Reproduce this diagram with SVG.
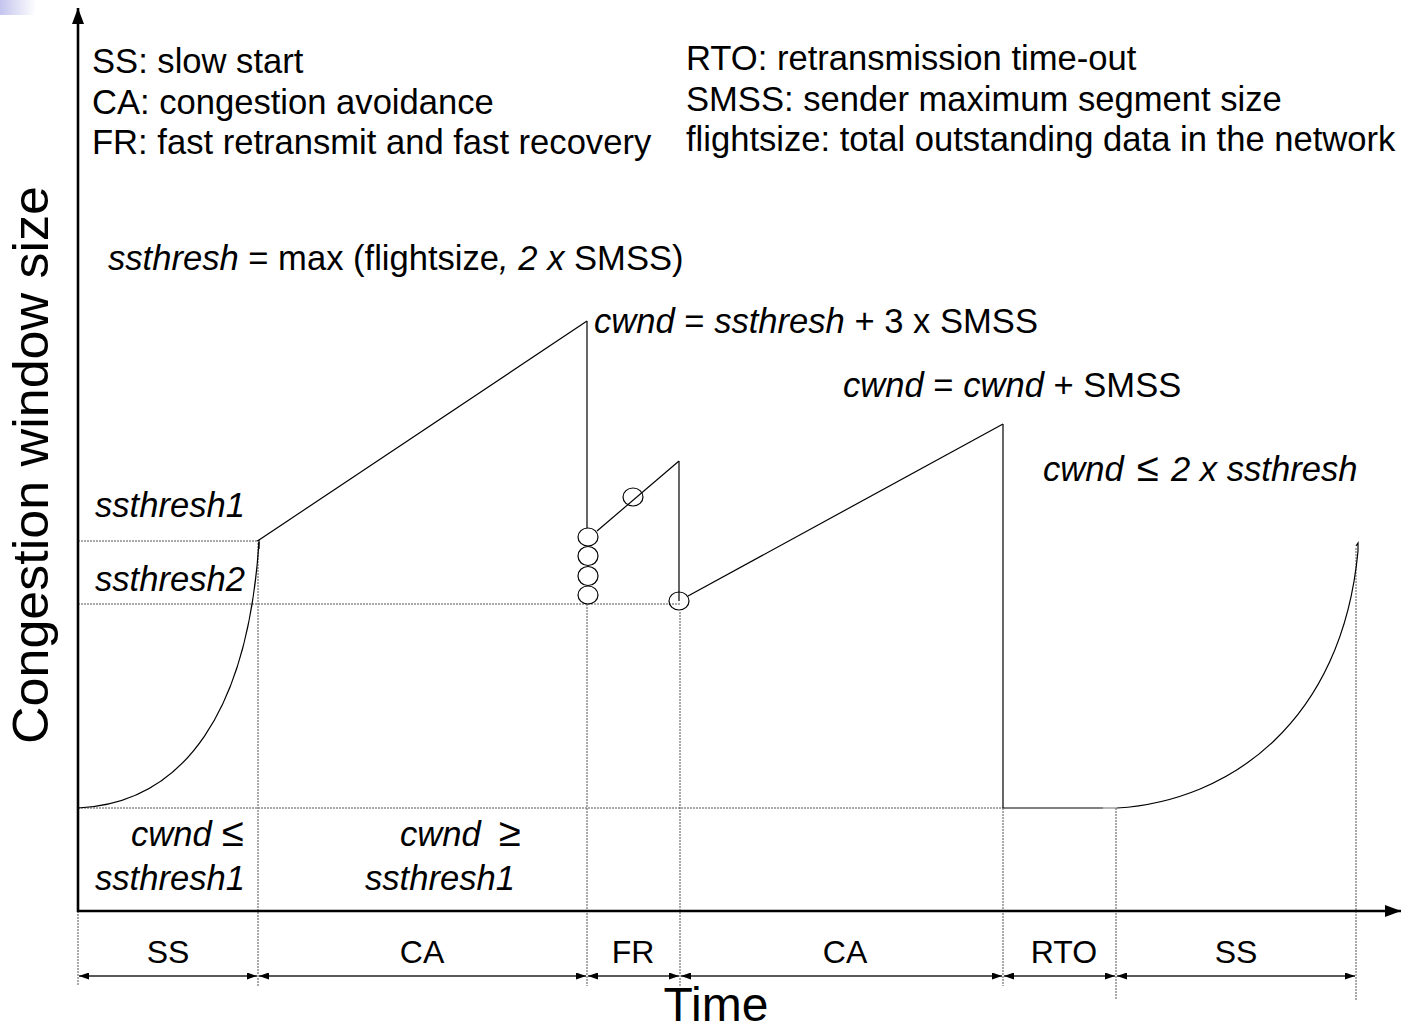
<svg xmlns="http://www.w3.org/2000/svg" width="1402" height="1032" viewBox="0 0 1402 1032">
<style>
text{font-family:"Liberation Sans",Arial,sans-serif;fill:#000}
.t{font-size:34.6px}
.i{font-style:italic}
.rel{font-size:40px}
.lbl{font-size:32px;text-anchor:middle}
.ln{stroke:#000;stroke-width:1.2;fill:none}
.gd{stroke:#555;stroke-width:1;stroke-dasharray:2,1;fill:none}
.dim{stroke:#222;stroke-width:1.3;fill:none;marker-start:url(#dh);marker-end:url(#dh)}
.ax{stroke:#000;stroke-width:2.6;fill:none}
.cir{stroke:#000;stroke-width:1.2;fill:none}
</style>
<defs>
<linearGradient id="corner" x1="0" y1="0" x2="1" y2="0">
<stop offset="0" stop-color="#c4c4ee"/>
<stop offset="1" stop-color="#ffffff"/>
</linearGradient>
<marker id="dh" viewBox="0 0 10 7" refX="10" refY="3.5" markerWidth="10" markerHeight="7" markerUnits="userSpaceOnUse" orient="auto-start-reverse">
<path d="M0,0 L10,3.5 L0,7 z" fill="#000"/>
</marker>
<marker id="ah" viewBox="0 0 16 12" refX="16" refY="6" markerWidth="16" markerHeight="12" markerUnits="userSpaceOnUse" orient="auto">
<path d="M0,0 L16,6 L0,12 z" fill="#000"/>
</marker>
</defs>
<rect width="1402" height="1032" fill="#fff"/>
<rect x="0" y="0" width="36" height="15" fill="url(#corner)"/>

<g id="legend">
<text class="t" x="92" y="73">SS: slow start</text>
<text class="t" x="92" y="114">CA: congestion avoidance</text>
<text class="t" x="92" y="154">FR: fast retransmit and fast recovery</text>
<text class="t" x="686" y="70">RTO: retransmission time-out</text>
<text class="t" x="686" y="111">SMSS: sender maximum segment size</text>
<text class="t" x="686" y="151">flightsize: total outstanding data in the network</text>
</g>

<g id="guides">
<line class="gd" x1="78" y1="541" x2="258" y2="541"/>
<line class="gd" x1="78" y1="604" x2="680" y2="604"/>
<line class="gd" x1="78" y1="808" x2="1003" y2="808"/>
<line class="ln" x1="1003" y1="808" x2="1103" y2="808"/>
<line stroke="#888" stroke-width="1.2" x1="1100" y1="808" x2="1117" y2="808"/>
<line class="gd" x1="78" y1="911" x2="78" y2="986"/>
<line class="gd" x1="258" y1="543" x2="258" y2="986"/>
<line class="gd" x1="587" y1="604" x2="587" y2="986"/>
<line class="gd" x1="680" y1="612" x2="680" y2="986"/>
<line class="gd" x1="1003" y1="808" x2="1003" y2="986"/>
<line class="gd" x1="1116" y1="808" x2="1116" y2="1000"/>
<line class="gd" x1="1356" y1="548" x2="1356" y2="1000"/>
</g>

<g id="axes">
<line class="ax" x1="78" y1="912" x2="78" y2="8" marker-end="url(#ah)"/>
<line class="ax" x1="77" y1="911" x2="1401" y2="911" marker-end="url(#ah)"/>
<text x="48" y="465" font-size="50" text-anchor="middle" transform="rotate(-90 48 465)" textLength="558" lengthAdjust="spacingAndGlyphs">Congestion window size</text>
<text x="716" y="1021" font-size="48" text-anchor="middle">Time</text>
</g>

<g id="connectors">
<path class="ln" d="M78,808 C185,803 248,710 259,542"/>
<path class="ln" d="M257,541 L259,540 L259,549"/>
<line class="ln" x1="259" y1="540" x2="587" y2="321"/>
<line class="ln" x1="587" y1="321" x2="587" y2="528"/>
<line class="ln" x1="597" y1="531" x2="679" y2="461"/>
<line class="ln" x1="679" y1="461" x2="679" y2="601"/>
<line class="ln" x1="688" y1="596" x2="1003" y2="424"/>
<line class="ln" x1="1003" y1="424" x2="1003" y2="808"/>
<path class="ln" d="M1117,808 C1230,801 1342,722 1358,551"/>
<path class="ln" d="M1356,546 L1358,543 L1358,551"/>
</g>

<g id="acks">
<ellipse class="cir" cx="588" cy="537" rx="10" ry="9"/>
<ellipse class="cir" cx="588" cy="556" rx="10" ry="9.5"/>
<ellipse class="cir" cx="588" cy="576" rx="10" ry="9.5"/>
<ellipse class="cir" cx="588" cy="595" rx="10" ry="9"/>
<ellipse class="cir" cx="633" cy="497" rx="10" ry="9"/>
<ellipse class="cir" cx="679" cy="601" rx="10" ry="9"/>
</g>

<g id="formulas">
<text class="t" x="108" y="270"><tspan class="i">ssthresh</tspan> = max (flightsize<tspan class="i">, 2 x</tspan> SMSS)</text>
<text class="t" x="594" y="333"><tspan class="i">cwnd</tspan> = <tspan class="i">ssthresh</tspan> + 3 x SMSS</text>
<text class="t" x="843" y="397"><tspan class="i">cwnd</tspan> = <tspan class="i">cwnd</tspan> + SMSS</text>
<text class="t" x="1043" y="481"><tspan class="i">cwnd</tspan><tspan class="rel" x="1137">≤</tspan><tspan class="i" x="1171">2 x ssthresh</tspan></text>
<text class="t i" x="95" y="517">ssthresh1</text>
<text class="t i" x="95" y="591">ssthresh2</text>
<text class="t" x="131" y="846"><tspan class="i">cwnd</tspan><tspan class="rel" x="222">≤</tspan></text>
<text class="t i" x="95" y="890">ssthresh1</text>
<text class="t" x="400" y="846"><tspan class="i">cwnd</tspan><tspan class="rel" x="499">≥</tspan></text>
<text class="t i" x="365" y="890">ssthresh1</text>
</g>

<g id="phases">
<line class="dim" x1="79" y1="976" x2="257" y2="976"/>
<line class="dim" x1="259" y1="976" x2="586" y2="976"/>
<line class="dim" x1="588" y1="976" x2="679" y2="976"/>
<line class="dim" x1="681" y1="976" x2="1002" y2="976"/>
<line class="dim" x1="1004" y1="976" x2="1115" y2="976"/>
<line class="dim" x1="1117" y1="976" x2="1355" y2="976"/>
<text class="lbl" x="168" y="963">SS</text>
<text class="lbl" x="422" y="963">CA</text>
<text class="lbl" x="633" y="963">FR</text>
<text class="lbl" x="845" y="963">CA</text>
<text class="lbl" x="1064" y="963">RTO</text>
<text class="lbl" x="1236" y="963">SS</text>
</g>
</svg>
